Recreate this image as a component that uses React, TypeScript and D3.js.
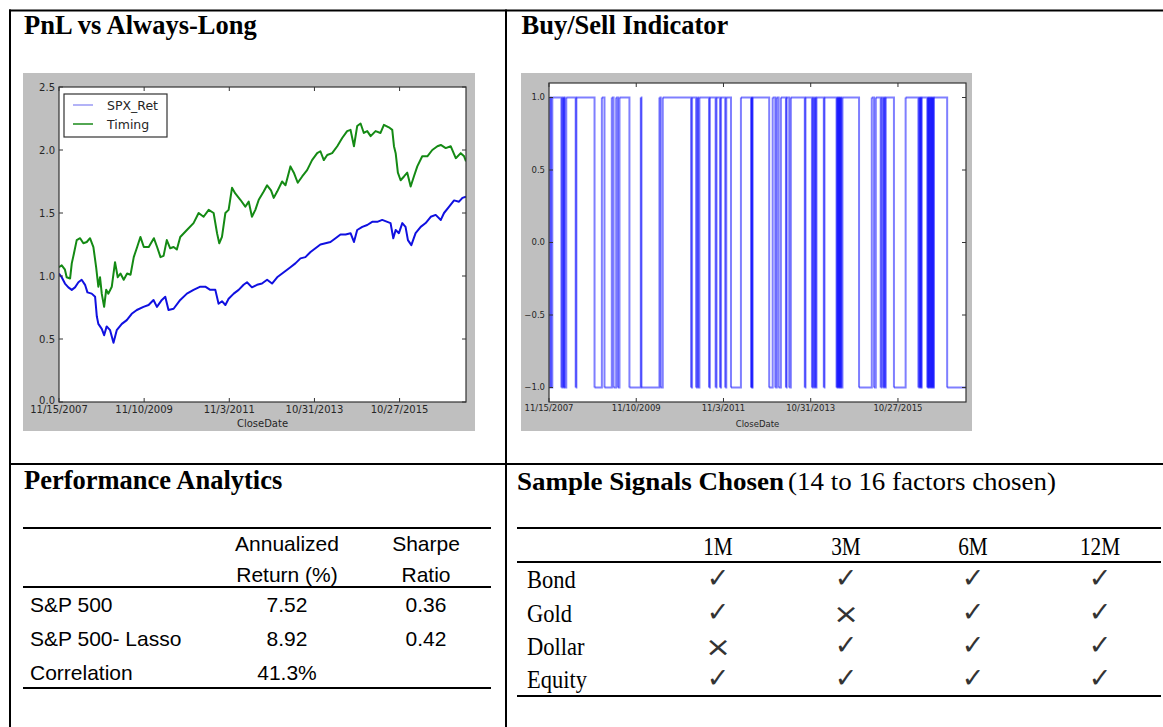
import React from "react";
import * as d3 from "d3";

const W = 1163;
const H = 727;
const ROW_END = 2390;

// x axis: trading-day row index with date labels every 500 rows
const dateTickRows = [0, 500, 1000, 1500, 2000];
const dateTickLabels = ["11/15/2007", "11/10/2009", "11/3/2011", "10/31/2013", "10/27/2015"];
const pnlTicks = [0, 0.5, 1, 1.5, 2, 2.5];
const signalTicks = [-1, -0.5, 0, 0.5, 1];

// [row, cumulative value]
const spxRet: [number, number][] = [
  [0, 1.02], [16, 0.99], [35, 0.94], [55, 0.91], [75, 0.89], [94, 0.91], [114, 0.95], [133, 0.97],
  [153, 0.93], [167, 0.87], [192, 0.86], [212, 0.835], [222, 0.68], [231, 0.62], [251, 0.58],
  [265, 0.53], [280, 0.6], [300, 0.57], [320, 0.47], [339, 0.57], [369, 0.62], [398, 0.65],
  [427, 0.7], [457, 0.73], [496, 0.755], [526, 0.77], [555, 0.81], [575, 0.755], [604, 0.81],
  [624, 0.835], [643, 0.73], [673, 0.74], [712, 0.81], [751, 0.86], [790, 0.89], [830, 0.915],
  [859, 0.915], [888, 0.89], [918, 0.89], [937, 0.78], [957, 0.8], [977, 0.77], [996, 0.82],
  [1026, 0.86], [1055, 0.89], [1084, 0.93], [1104, 0.95], [1133, 0.91], [1163, 0.93], [1192, 0.94],
  [1222, 0.97], [1251, 0.94], [1281, 0.99], [1320, 1.03], [1359, 1.07], [1388, 1.1], [1418, 1.14],
  [1447, 1.15], [1477, 1.19], [1506, 1.22], [1535, 1.25], [1565, 1.26], [1594, 1.27], [1624, 1.3],
  [1653, 1.33], [1683, 1.33], [1712, 1.34], [1732, 1.27], [1751, 1.365], [1781, 1.39], [1810, 1.405],
  [1839, 1.43], [1869, 1.43], [1898, 1.445], [1928, 1.43], [1947, 1.42], [1963, 1.3], [1977, 1.365],
  [1996, 1.34], [2016, 1.42], [2035, 1.39], [2049, 1.285], [2069, 1.245], [2094, 1.34], [2124, 1.39],
  [2153, 1.42], [2183, 1.47], [2212, 1.485], [2242, 1.445], [2261, 1.5], [2291, 1.55], [2320, 1.6],
  [2349, 1.59], [2369, 1.62], [2390, 1.63],
];

const timing: [number, number][] = [
  [0, 1.07], [16, 1.085], [35, 1.05], [45, 0.99], [65, 0.98], [75, 1.1], [88, 1.18], [104, 1.285],
  [124, 1.3], [143, 1.26], [163, 1.27], [182, 1.3], [202, 1.23], [218, 1.07], [231, 0.915],
  [241, 0.99], [251, 0.86], [265, 0.755], [277, 0.89], [290, 0.86], [310, 0.915], [329, 1.11],
  [345, 0.99], [361, 1.02], [380, 0.97], [400, 1.02], [420, 1.01], [439, 1.15], [459, 1.23],
  [478, 1.31], [498, 1.23], [527, 1.23], [557, 1.3], [576, 1.23], [596, 1.15], [614, 1.16],
  [633, 1.285], [653, 1.22], [673, 1.23], [692, 1.21], [712, 1.31], [751, 1.365], [790, 1.42],
  [820, 1.5], [849, 1.47], [879, 1.525], [908, 1.5], [928, 1.34], [941, 1.26], [957, 1.31],
  [977, 1.5], [996, 1.525], [1016, 1.7], [1035, 1.655], [1065, 1.605], [1094, 1.55], [1114, 1.59],
  [1133, 1.47], [1153, 1.525], [1173, 1.605], [1202, 1.67], [1222, 1.72], [1245, 1.68], [1261, 1.62],
  [1281, 1.67], [1310, 1.75], [1330, 1.72], [1359, 1.87], [1379, 1.82], [1402, 1.74], [1428, 1.79],
  [1457, 1.84], [1486, 1.92], [1516, 1.975], [1535, 1.99], [1555, 1.92], [1575, 1.96], [1604, 1.975],
  [1634, 2.03], [1663, 2.095], [1692, 2.15], [1712, 2.16], [1732, 2.03], [1751, 2.19], [1771, 2.21],
  [1790, 2.135], [1810, 2.15], [1830, 2.11], [1859, 2.15], [1888, 2.135], [1908, 2.2], [1937, 2.18],
  [1957, 2.16], [1967, 2.03], [1977, 1.975], [1990, 1.82], [2006, 1.76], [2026, 1.79], [2045, 1.82],
  [2065, 1.71], [2084, 1.79], [2104, 1.87], [2133, 1.95], [2163, 1.95], [2192, 2.0], [2222, 2.03],
  [2242, 2.04], [2271, 2.015], [2300, 2.03], [2330, 1.935], [2359, 1.975], [2379, 1.95], [2390, 1.91],
];

// rows where the indicator is -1 (sell); +1 otherwise
const sellIntervals: [number, number][] = [
  [0, 5], [12, 19], [71, 76], [82, 86], [90, 99], [153, 157], [261, 303], [318, 360], [370, 385],
  [395, 404], [461, 526], [530, 633], [640, 652], [814, 820], [843, 850], [855, 862], [917, 922],
  [955, 960], [980, 986], [1010, 1016], [1043, 1100], [1158, 1162], [1164, 1167], [1262, 1282],
  [1297, 1305], [1316, 1329], [1358, 1362], [1377, 1386], [1466, 1470], [1507, 1512], [1518, 1524],
  [1529, 1533], [1575, 1579], [1648, 1652], [1655, 1659], [1662, 1666], [1669, 1673], [1676, 1682],
  [1777, 1850], [1863, 1873], [1901, 1906], [1915, 1920], [1926, 1930], [1977, 2044], [2117, 2122],
  [2126, 2130], [2133, 2136], [2168, 2172], [2175, 2179], [2182, 2186], [2189, 2193], [2196, 2200],
  [2203, 2206], [2282, 2390],
];

const perfHeaderReturn = ["Annualized", "Return (%)"];
const perfHeaderSharpe = ["Sharpe", "Ratio"];
const perfRows = ["S&P 500", "S&P 500- Lasso", "Correlation"];
const perfReturn = ["7.52", "8.92", "41.3%"];
const perfSharpe = ["0.36", "0.42", ""];

const horizons = ["1M", "3M", "6M", "12M"];
const assets = ["Bond", "Gold", "Dollar", "Equity"];
const chosen = [
  [1, 1, 1, 1],
  [1, 0, 1, 1],
  [0, 1, 1, 1],
  [1, 1, 1, 1],
];

const SERIF = "'Liberation Serif', 'Times New Roman', serif";
const SANS = "'Liberation Sans', Arial, sans-serif";
const MPL = "'DejaVu Sans', sans-serif";

type Box = { l: number; r: number; t: number; b: number };
type Fig = { x: number; y: number; w: number; h: number };

function PlotFrame(props: {
  id: string;
  fig: Fig;
  box: Box;
  yDomain: [number, number];
  yTicks: number[];
  fs: number;
  xLabelY: number;
  titleY: number;
  render: (x: d3.ScaleLinear<number, number>, y: d3.ScaleLinear<number, number>) => React.ReactNode;
}) {
  const { id, fig, box, yDomain, yTicks, fs, xLabelY, titleY, render } = props;
  const x = d3.scaleLinear().domain([0, ROW_END]).range([box.l, box.r]);
  const y = d3.scaleLinear().domain(yDomain).range([box.b, box.t]);
  const fmt = d3.format(".1f");
  const tl = 4;
  return (
    <g>
      <rect x={fig.x} y={fig.y} width={fig.w} height={fig.h} fill="#bfbfbf" />
      <rect x={box.l} y={box.t} width={box.r - box.l} height={box.b - box.t} fill="#ffffff" />
      <clipPath id={id}>
        <rect x={box.l} y={box.t} width={box.r - box.l} height={box.b - box.t} />
      </clipPath>
      <g clipPath={`url(#${id})`}>{render(x, y)}</g>
      <rect x={box.l} y={box.t} width={box.r - box.l} height={box.b - box.t} fill="none" stroke="#333" strokeWidth={1.2} />
      {yTicks.map((v, i) => (
        <g key={"y" + v}>
          <line x1={box.l} x2={box.l + tl} y1={y(v)} y2={y(v)} stroke="#333" />
          <line x1={box.r - tl} x2={box.r} y1={y(v)} y2={y(v)} stroke="#333" />
          <text x={box.l - 4} y={y(v) - (i === 0 && yDomain[0] === v ? 2 : 0)} dy="0.35em" textAnchor="end" fontFamily={MPL} fontSize={fs} fill="#262626">
            {fmt(v)}
          </text>
        </g>
      ))}
      {dateTickRows.map((r, i) => (
        <g key={"x" + r}>
          <line x1={x(r)} x2={x(r)} y1={box.b} y2={box.b - tl} stroke="#333" />
          <line x1={x(r)} x2={x(r)} y1={box.t} y2={box.t + tl} stroke="#333" />
          <text x={x(r)} y={xLabelY} textAnchor="middle" fontFamily={MPL} fontSize={fs} fill="#262626">
            {dateTickLabels[i]}
          </text>
        </g>
      ))}
      <text x={(box.l + box.r) / 2} y={titleY} textAnchor="middle" fontFamily={MPL} fontSize={fs} fill="#262626">
        CloseDate
      </text>
    </g>
  );
}

function PnLChart() {
  return (
    <PlotFrame
      id="clipPnl"
      fig={{ x: 23, y: 73, w: 452, h: 358 }}
      box={{ l: 59, r: 466, t: 87, b: 402 }}
      yDomain={[0, 2.5]}
      yTicks={pnlTicks}
      fs={10}
      xLabelY={413}
      titleY={427}
      render={(x, y) => {
        const line = d3.line<[number, number]>().x((d) => x(d[0])).y((d) => y(d[1]));
        return (
          <g>
            <path d={line(spxRet) || ""} fill="none" stroke="#1010e0" strokeWidth={2} strokeLinejoin="round" />
            <path d={line(timing) || ""} fill="none" stroke="#148a14" strokeWidth={2} strokeLinejoin="round" />
          </g>
        );
      }}
    />
  );
}

function SignalChart() {
  // change points from sell intervals
  const changes: [number, number][] = [];
  let start = 1;
  sellIntervals.forEach(([a, b]) => {
    if (a <= 0) start = -1;
    else changes.push([a, -1]);
    if (b < ROW_END) changes.push([b, 1]);
  });
  return (
    <PlotFrame
      id="clipSig"
      fig={{ x: 521, y: 73, w: 451, h: 358 }}
      box={{ l: 549, r: 966, t: 83, b: 402 }}
      yDomain={[-1.1, 1.1]}
      yTicks={signalTicks}
      fs={8.5}
      xLabelY={411}
      titleY={427}
      render={(x, y) => {
        const segs: string[] = [];
        let prevRow = 0;
        let prevVal = start;
        changes.forEach(([r, v]) => {
          segs.push(`M${x(prevRow)},${y(prevVal)}H${x(r)}V${y(v)}`);
          prevRow = r;
          prevVal = v;
        });
        segs.push(`M${x(prevRow)},${y(prevVal)}H${x(ROW_END)}`);
        return (
          <g>
            {segs.map((d, i) => (
              <path key={i} d={d} fill="none" stroke="#0000ff" strokeOpacity={0.5} strokeWidth={2} />
            ))}
          </g>
        );
      }}
    />
  );
}

function Legend() {
  return (
    <g>
      <rect x={64} y={94} width={103} height={43} fill="#fff" stroke="#333" strokeWidth={1.2} />
      <line x1={73} x2={93} y1={105} y2={105} stroke="#9a9af5" strokeWidth={1.5} />
      <text x={107} y={110} fontFamily={MPL} fontSize={12.5} fill="#262626">SPX_Ret</text>
      <line x1={73} x2={93} y1={124} y2={124} stroke="#1a8a1a" strokeWidth={1.5} />
      <text x={107} y={129} fontFamily={MPL} fontSize={12.5} fill="#262626">Timing</text>
    </g>
  );
}

function PerfTable() {
  const c2 = 287;
  const c3 = 426;
  const rowY = [611.5, 645.5, 679.5];
  return (
    <g fontFamily={SANS} fontSize={21} fill="#000">
      <line x1={23} x2={491} y1={528} y2={528} stroke="#000" strokeWidth={2} />
      <line x1={23} x2={491} y1={587} y2={587} stroke="#000" strokeWidth={2} />
      <line x1={23} x2={491} y1={688} y2={688} stroke="#000" strokeWidth={2} />
      {perfHeaderReturn.map((t, i) => (
        <text key={"hr" + i} x={c2} y={551 + i * 30.5} textAnchor="middle">{t}</text>
      ))}
      {perfHeaderSharpe.map((t, i) => (
        <text key={"hs" + i} x={c3} y={551 + i * 30.5} textAnchor="middle">{t}</text>
      ))}
      {perfRows.map((t, i) => (
        <g key={"r" + i}>
          <text x={30} y={rowY[i]}>{t}</text>
          <text x={c2} y={rowY[i]} textAnchor="middle">{perfReturn[i]}</text>
          <text x={c3} y={rowY[i]} textAnchor="middle">{perfSharpe[i]}</text>
        </g>
      ))}
    </g>
  );
}

function SignalsTable() {
  const cols = [718, 846, 973, 1100];
  const rowY = [588, 621.5, 655, 688];
  return (
    <g fill="#000">
      <line x1={517} x2={1161} y1={528} y2={528} stroke="#000" strokeWidth={2.2} />
      <line x1={517} x2={1161} y1={562} y2={562} stroke="#000" strokeWidth={2.2} />
      <line x1={517} x2={1161} y1={696} y2={696} stroke="#000" strokeWidth={2.2} />
      {horizons.map((h, j) => (
        <g key={h} transform={`translate(${cols[j]},555) scale(0.85,1)`}>
          <text x={0} y={0} textAnchor="middle" fontFamily={SERIF} fontSize={25}>{h}</text>
        </g>
      ))}
      {assets.map((a, i) => (
        <g key={a}>
          <g transform={`translate(527,${rowY[i]}) scale(0.9,1)`}>
            <text x={0} y={0} fontFamily={SERIF} fontSize={25}>{a}</text>
          </g>
          {chosen[i].map((c, j) =>
            c ? (
              <text key={j} x={cols[j]} y={rowY[i] - 1} textAnchor="middle" fontFamily={MPL} fontWeight="bold" fontSize={27} fill="#333">
                ✓
              </text>
            ) : (
              <g key={j} transform={`translate(${cols[j]},${rowY[i] + 1}) scale(1.2,1)`}>
                <text x={0} y={0} textAnchor="middle" fontFamily={MPL} fontSize={26} fill="#333">×</text>
              </g>
            )
          )}
        </g>
      ))}
    </g>
  );
}

export default function App() {
  return (
    <svg
      width={W}
      height={H}
      viewBox={`0 0 ${W} ${H}`}
      style={{ position: "absolute", left: 0, top: 0, background: "#fff" }}
    >
      <rect x={0} y={0} width={W} height={H} fill="#fff" />
      {/* panel borders */}
      <line x1={9} x2={W} y1={10.5} y2={10.5} stroke="#000" strokeWidth={2} />
      <line x1={10} x2={10} y1={9.5} y2={H} stroke="#000" strokeWidth={2} />
      <line x1={506} x2={506} y1={9.5} y2={H} stroke="#000" strokeWidth={2} />
      <line x1={9} x2={W} y1={464} y2={464} stroke="#000" strokeWidth={2} />

      <text x={24} y={34} fontFamily={SERIF} fontWeight="bold" fontSize={26.5}>PnL vs Always-Long</text>
      <text x={521.5} y={34} fontFamily={SERIF} fontWeight="bold" fontSize={26.5}>Buy/Sell Indicator</text>
      <text x={24} y={489} fontFamily={SERIF} fontWeight="bold" fontSize={26.5}>Performance Analytics</text>
      <text x={517} y={490} fontFamily={SERIF} fontWeight="bold" fontSize={26} textLength={267} lengthAdjust="spacingAndGlyphs">
        Sample Signals Chosen
      </text>
      <text x={788} y={490} fontFamily={SERIF} fontSize={26} textLength={268} lengthAdjust="spacingAndGlyphs">
        (14 to 16 factors chosen)
      </text>

      <PnLChart />
      <Legend />
      <SignalChart />
      <PerfTable />
      <SignalsTable />
    </svg>
  );
}
